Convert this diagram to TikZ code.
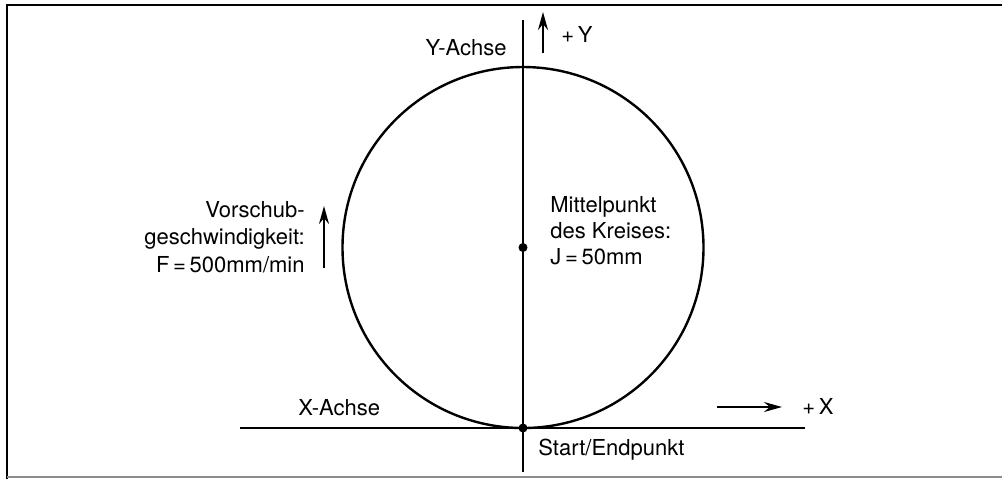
\documentclass[tikz,border=0pt]{standalone}
\usepackage{fontspec}
\setmainfont{TeX Gyre Heros}
\usetikzlibrary{arrows.meta}

\begin{document}
\begin{tikzpicture}[
  x=0.5pt, y=-0.5pt,
  font=\fontsize{11}{13}\selectfont,
  every node/.style={inner sep=0pt},
  rahmen/.style={line width=1.3pt, black},
  achse/.style={line width=1.1pt, black},
  kreis/.style={line width=1.2pt, black},
  pfeil/.style={-{Stealth[length=9pt, width=5pt]}, line width=1pt, black},
  punkt/.style={circle, fill=black, minimum size=4.5pt, inner sep=0pt},
  txt/.style={inner sep=0pt, text=black}
]
  \useasboundingbox (0,0) rectangle (1002,479);

  % Rahmen
  \coordinate (rlo) at (7,5);
  \coordinate (rro) at (1002,5);
  \coordinate (rlu) at (7,479);
  \coordinate (rru) at (1002,477);
  \draw[rahmen] (rlu) -- (rlo) -- (rro);
  \draw[line width=0.6pt, black!45] (7,477) -- (rru);

  % Achsen und Kreis
  \coordinate (M) at (523,247.5);
  \coordinate (S) at (523,428);
  \coordinate (yoben) at (523,20);
  \coordinate (yunten) at (523,472);
  \coordinate (xlinks) at (240,428);
  \coordinate (xrechts) at (805,428);

  \draw[kreis] (M) circle[radius=180.5];
  \draw[achse] (yoben) -- (yunten);
  \draw[achse, line width=1.3pt] (xlinks) -- (xrechts);
  \node[punkt] (mp) at (M) {};
  \node[punkt] (sp) at (S) {};

  % Beschriftung
  \node[txt, anchor=base east] (yachse) at (507,55) {Y-Achse};
  \node[txt, anchor=base west] (plusy) at (561,42) {+\,Y};
  \node[txt, anchor=base east, align=right, font=\fontsize{11}{13.75}\selectfont] (vorschub) at (305,272)
    {Vorschub-\\geschwindigkeit:\\F\,=\,500mm/min};
  \node[txt, anchor=base west, align=left] (mittel) at (550,264)
    {Mittelpunkt\\des Kreises:\\J\,=\,50mm};
  \node[txt, anchor=base west] (xachse) at (298,415) {X-Achse};
  \node[txt, anchor=base west] (plusx) at (802,414) {+\,X};
  \node[txt, anchor=base west] (start) at (538,455) {Start/Endpunkt};

  % Richtungspfeile
  \coordinate (yp1) at (543,53);
  \coordinate (yp2) at (543,12);
  \coordinate (fp1) at (324,268);
  \coordinate (fp2) at (324,206);
  \coordinate (xp1) at (717,407);
  \coordinate (xp2) at (782,407);
  \draw[pfeil] (yp1) -- (yp2);
  \draw[pfeil] (fp1) -- (fp2);
  \draw[pfeil] (xp1) -- (xp2);
\end{tikzpicture}
\end{document}
